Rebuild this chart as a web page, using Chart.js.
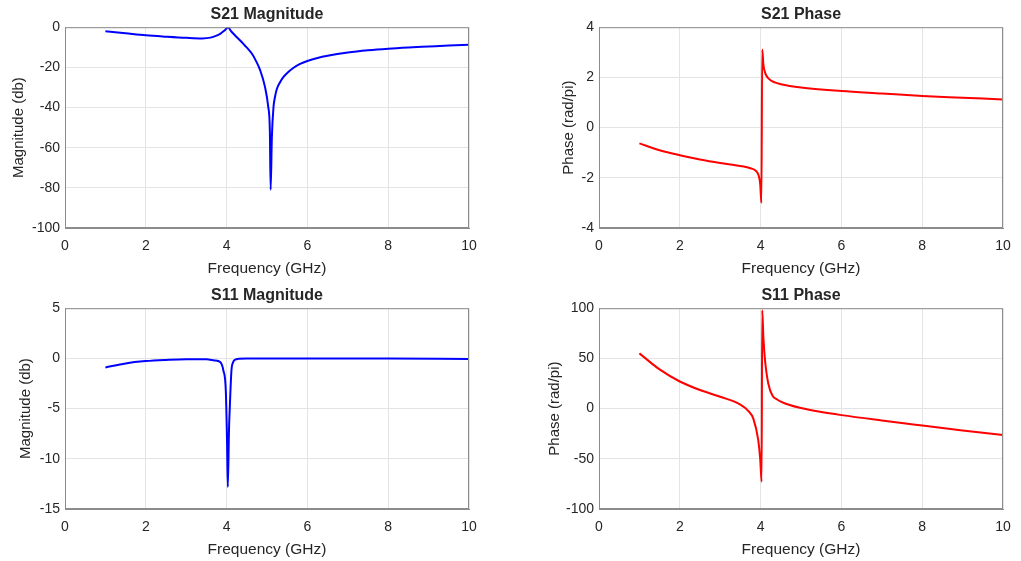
<!DOCTYPE html>
<html>
<head>
<meta charset="utf-8">
<script src="https://cdn.jsdelivr.net/npm/chart.js@4.4.1/dist/chart.umd.min.js"></script>
<style>
  body { margin: 0; background: #fff; width: 1021px; height: 561px; overflow: hidden; position: relative; }
  .box { position: absolute; }
</style>
</head>
<body>
<div class="box" style="left:0;top:0;width:490px;height:280px"><canvas id="s21mag"></canvas></div>
<div class="box" style="left:534px;top:0;width:487px;height:280px"><canvas id="s21ph"></canvas></div>
<div class="box" style="left:0;top:281px;width:490px;height:280px"><canvas id="s11mag"></canvas></div>
<div class="box" style="left:534px;top:281px;width:487px;height:280px"><canvas id="s11ph"></canvas></div>
<script>
// values
const s21MagFreq = [1.0, 1.5, 2.0, 2.5, 3.0, 3.4, 3.6, 3.75, 3.85, 3.95, 4.04, 4.1, 4.2, 4.33, 4.45, 4.55, 4.62, 4.72, 4.83, 4.95, 5.03, 5.07, 5.09, 5.12, 5.16, 5.2, 5.24, 5.32, 5.4, 5.5, 5.65, 5.82, 6.0, 6.25, 6.5, 7.0, 7.5, 8.0, 8.5, 9.0, 9.5, 10.0];
const s21MagDb   = [-2.0, -3.0, -4.0, -4.7, -5.3, -5.6, -5.2, -4.2, -3.2, -1.6, 0.0, -1.7, -3.9, -6.5, -9.1, -11.3, -13.0, -16.5, -21.4, -29.7, -39.6, -51.0, -81.0, -55.0, -40.0, -34.5, -31.0, -27.5, -25.0, -22.8, -20.3, -18.3, -16.8, -15.3, -14.2, -12.6, -11.5, -10.7, -10.1, -9.6, -9.1, -8.7];

const s21PhFreq = [1.0, 1.5, 2.0, 2.5, 3.0, 3.5, 3.75, 3.88, 3.95, 3.99, 4.02, 4.04, 4.07, 4.12, 4.2, 4.35, 4.5, 5.0, 6.0, 7.0, 8.0, 9.0, 10.0];
const s21PhVal  = [-0.63, -0.9, -1.1, -1.27, -1.41, -1.53, -1.62, -1.72, -1.9, -2.25, -3.0, 3.11, 2.5, 2.15, 1.95, 1.8, 1.73, 1.6, 1.46, 1.36, 1.26, 1.19, 1.12];

const s11MagFreq = [1.0, 1.5, 2.0, 2.5, 3.0, 3.5, 3.7, 3.84, 3.92, 3.98, 4.01, 4.03, 4.06, 4.08, 4.12, 4.16, 4.21, 4.3, 4.5, 6.0, 8.0, 10.0];
const s11MagDb   = [-0.9, -0.5, -0.27, -0.15, -0.08, -0.08, -0.2, -0.37, -1.2, -3.2, -8.1, -12.8, -7.0, -4.8, -1.2, -0.4, -0.13, -0.04, 0.0, 0.0, -0.02, -0.05];

const s11PhFreq = [1.0, 1.5, 2.0, 2.5, 3.0, 3.5, 3.7, 3.82, 3.94, 3.99, 4.025, 4.04, 4.07, 4.11, 4.19, 4.3, 4.4, 4.5, 4.7, 5.0, 5.47, 6.0, 7.0, 8.0, 9.0, 10.0];
const s11PhVal  = [55, 39, 27, 18.5, 11.8, 4.0, -2.5, -10, -31, -50, -72.8, 98, 70, 48, 25, 12.5, 9.3, 7, 3.8, 0.5, -3.2, -6.5, -11.8, -16.8, -21.7, -26.4];

const xTicks = [0, 2, 4, 6, 8, 10];

const txt = "#262626";
const fontFam = "'Liberation Sans', Arial, sans-serif";

const frame = {
  id: "frame",
  afterDraw(chart) {
    const a = chart.chartArea;
    const ctx = chart.ctx;
    ctx.save();
    ctx.strokeStyle = "#8c8c8c";
    ctx.lineWidth = 1;
    ctx.strokeRect(a.left + 0.5, a.top + 0.5, a.right - a.left - 1, a.bottom - a.top - 1);
    ctx.restore();
  }
};

function makeChart(id, title, yLabel, freq, vals, color, yMin, yMax, yStep, padLeft, yWidth, padRight) {
  return new Chart(document.getElementById(id), {
    type: "line",
    data: {
      datasets: [{
        data: freq.map((f, i) => ({ x: f, y: vals[i] })),
        borderColor: color,
        borderWidth: 2,
        pointRadius: 0,
        cubicInterpolationMode: "monotone",
        fill: false
      }]
    },
    options: {
      responsive: true,
      maintainAspectRatio: false,
      animation: false,
      layout: { padding: { left: padLeft, right: padRight, top: 0, bottom: 0 } },
      plugins: {
        legend: { display: false },
        tooltip: { enabled: false },
        title: {
          display: true,
          text: title,
          fullSize: false,
          color: txt,
          font: { family: fontFam, size: 16, weight: "bold" },
          padding: { top: 5, bottom: 3 }
        }
      },
      scales: {
        x: {
          type: "linear",
          min: 0,
          max: 10,
          afterBuildTicks: s => { s.ticks = xTicks.map(v => ({ value: v })); },
          ticks: { color: txt, font: { family: fontFam, size: 14 }, padding: 10, maxRotation: 0 },
          grid: { color: "#e4e4e4", drawTicks: false },
          border: { color: "#8c8c8c" },
          title: { display: true, text: "Frequency (GHz)", color: txt, font: { family: fontFam, size: 15.5 }, padding: { top: 2, bottom: 2 } },
          afterFit: s => { s.height = 52; }
        },
        y: {
          type: "linear",
          min: yMin,
          max: yMax,
          ticks: { stepSize: yStep, color: txt, font: { family: fontFam, size: 14 }, padding: 5 },
          grid: { color: "#e4e4e4", drawTicks: false },
          border: { color: "#8c8c8c" },
          title: { display: true, text: yLabel, color: txt, font: { family: fontFam, size: 15 }, padding: { top: 4, bottom: 4 } },
          afterFit: s => { s.width = yWidth; }
        }
      }
    },
    plugins: [frame]
  });
}

makeChart("s21mag", "S21 Magnitude", "Magnitude (db)", s21MagFreq, s21MagDb, "#0000ff", -100, 0, 20, 6, 59, 21);
makeChart("s21ph", "S21 Phase", "Phase (rad/pi)", s21PhFreq, s21PhVal, "#ff0000", -4, 4, 2, 22, 43, 18);
makeChart("s11mag", "S11 Magnitude", "Magnitude (db)", s11MagFreq, s11MagDb, "#0000ff", -15, 5, 5, 13, 52, 21);
makeChart("s11ph", "S11 Phase", "Phase (rad/pi)", s11PhFreq, s11PhVal, "#ff0000", -100, 100, 50, 8, 57, 18);
</script>
</body>
</html>
